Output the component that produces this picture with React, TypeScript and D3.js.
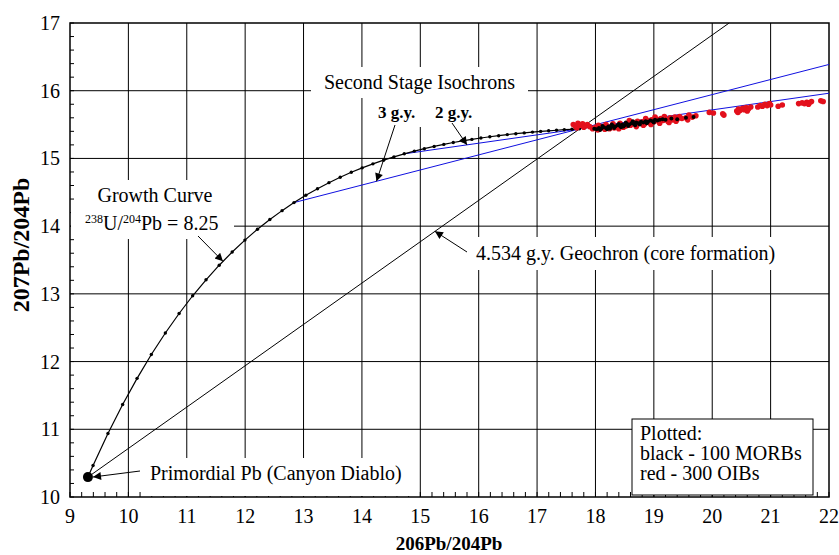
import React from "react";
import * as d3 from "d3";

// growth curve, mu = 8.25, from 4.534 g.y. to today (dots every 0.1 g.y.)
const growthX = [9.307, 9.395, 9.65, 9.902, 10.149, 10.393, 10.633, 10.869, 11.101, 11.33, 11.556, 11.778, 11.996, 12.211, 12.423, 12.632, 12.837, 13.039, 13.239, 13.435, 13.628, 13.818, 14.005, 14.189, 14.371, 14.549, 14.725, 14.898, 15.069, 15.237, 15.402, 15.565, 15.725, 15.883, 16.038, 16.191, 16.342, 16.49, 16.636, 16.78, 16.921, 17.061, 17.198, 17.333, 17.466, 17.597, 17.726];
const growthY = [10.294, 10.465, 10.937, 11.365, 11.752, 12.104, 12.422, 12.71, 12.972, 13.208, 13.423, 13.618, 13.794, 13.954, 14.098, 14.229, 14.348, 14.456, 14.553, 14.642, 14.722, 14.795, 14.861, 14.92, 14.974, 15.023, 15.068, 15.108, 15.144, 15.177, 15.207, 15.235, 15.259, 15.281, 15.302, 15.32, 15.336, 15.352, 15.365, 15.377, 15.389, 15.399, 15.408, 15.416, 15.424, 15.43, 15.437];

const primordial = [9.307, 10.294];
const geochron = [[9.307, 10.294], [20.29, 17]];
const isochron3 = [[12.837, 14.348], [22, 16.388]];
const isochron2 = [[14.725, 15.068], [22, 15.963]];

const morbs = [
  [17.98, 15.44], [18.02, 15.43], [18.06, 15.45], [18.1, 15.44], [18.14, 15.46], [18.18, 15.45], [18.22, 15.47], [18.26, 15.46],
  [18.3, 15.48], [18.34, 15.47], [18.38, 15.49], [18.42, 15.48], [18.46, 15.5], [18.5, 15.49], [18.54, 15.51], [18.58, 15.5],
  [18.62, 15.52], [18.66, 15.51], [18.7, 15.53], [18.74, 15.52], [18.78, 15.54], [18.82, 15.53], [18.86, 15.55], [18.9, 15.54],
  [18.94, 15.56], [18.98, 15.55], [19.02, 15.57], [19.06, 15.56], [19.1, 15.57], [19.15, 15.58], [19.2, 15.57], [19.3, 15.59],
  [19.4, 15.58], [19.55, 15.6], [19.68, 15.61], [18.08, 15.42], [18.2, 15.43], [18.32, 15.45], [18.44, 15.46], [18.56, 15.48],
  [18.68, 15.49], [18.12, 15.48], [18.28, 15.5], [18.4, 15.51], [18.52, 15.53], [18.64, 15.55], [18.76, 15.5], [18.88, 15.52],
  [19.0, 15.53], [18.25, 15.44], [18.48, 15.47],
];

const oibs = [
  [17.62, 15.5], [17.66, 15.47], [17.7, 15.52], [17.74, 15.49], [17.78, 15.51], [17.82, 15.48], [17.86, 15.5], [17.68, 15.45],
  [17.8, 15.46], [17.9, 15.47], [17.95, 15.44], [18.0, 15.46], [18.04, 15.42], [18.08, 15.45], [18.12, 15.47], [18.16, 15.43],
  [18.2, 15.46], [18.24, 15.44], [18.28, 15.48], [18.32, 15.45], [18.36, 15.47], [18.4, 15.44], [18.44, 15.49], [18.48, 15.46],
  [18.05, 15.49], [18.18, 15.5], [18.3, 15.51], [18.42, 15.52], [18.52, 15.48], [18.56, 15.51], [18.6, 15.49], [18.64, 15.53],
  [18.68, 15.5], [18.72, 15.55], [18.76, 15.52], [18.8, 15.54], [18.84, 15.51], [18.88, 15.56], [18.92, 15.53], [18.96, 15.57],
  [19.0, 15.54], [19.04, 15.58], [19.08, 15.55], [19.12, 15.59], [19.16, 15.56], [19.2, 15.58], [19.24, 15.55], [19.28, 15.6],
  [19.32, 15.57], [19.36, 15.61], [19.4, 15.58], [19.44, 15.62], [19.48, 15.59], [18.7, 15.47], [18.82, 15.49], [18.95, 15.5],
  [19.1, 15.52], [19.26, 15.53], [19.38, 15.55], [18.58, 15.56], [18.86, 15.59], [19.02, 15.61], [19.18, 15.62], [19.55, 15.6],
  [19.6, 15.64], [19.66, 15.61], [19.72, 15.63], [19.58, 15.57], [19.95, 15.68], [20.02, 15.67], [20.2, 15.64], [20.18, 15.66],
  [20.42, 15.7], [20.45, 15.73], [20.48, 15.71], [20.52, 15.74], [20.55, 15.72], [20.58, 15.75], [20.62, 15.73], [20.66, 15.76],
  [20.44, 15.68], [20.6, 15.7], [20.78, 15.76], [20.82, 15.78], [20.86, 15.77], [20.9, 15.8], [20.94, 15.78], [20.98, 15.81],
  [21.0, 15.79], [21.13, 15.77], [21.2, 15.79], [21.48, 15.81], [21.54, 15.82], [21.58, 15.81], [21.62, 15.83], [21.66, 15.82],
  [21.7, 15.84], [21.65, 15.8], [21.86, 15.85], [21.9, 15.84],
];

const xTicks = d3.range(9, 23);
const yTicks = d3.range(10, 18);
const legendLines = ["Plotted:", "black - 100 MORBs", "red - 300 OIBs"];

const W = 839, H = 555;
const L = 70, R = 829, T = 23, B = 497;
const serif = "'Liberation Serif', 'Times New Roman', serif";

export default function App() {
  const x = d3.scaleLinear().domain([9, 22]).range([L, R]);
  const y = d3.scaleLinear().domain([10, 17]).range([B, T]);
  const line = d3.line<number[]>().x((d) => x(d[0])).y((d) => y(d[1]));
  const growth = growthX.map((gx, i) => [gx, growthY[i]]);
  const minorX = d3.range(9, 22.001, 0.2);
  const minorY = d3.range(10, 17.001, 0.2);

  // small helper for annotation arrows (tip in data coords)
  const arrow = (x1: number, y1: number, tip: number[]) => (
    <line x1={x1} y1={y1} x2={x(tip[0])} y2={y(tip[1])} stroke="#000" strokeWidth={1} markerEnd="url(#head)" />
  );

  return (
    <div style={{ position: "absolute", left: 0, top: 0 }}>
      <svg width={W} height={H} style={{ display: "block", background: "#fff" }} fontFamily={serif}>
        <defs>
          <marker id="head" viewBox="0 0 10 10" refX="10" refY="5" markerWidth="10" markerHeight="8" markerUnits="userSpaceOnUse" orient="auto">
            <path d="M0,0 L10,5 L0,10 z" fill="#000" />
          </marker>
        </defs>

        {/* grid */}
        {xTicks.slice(1, -1).map((t) => (
          <line key={"gx" + t} x1={x(t)} x2={x(t)} y1={T} y2={B} stroke="#000" strokeWidth={1} />
        ))}
        {yTicks.slice(1, -1).map((t) => (
          <line key={"gy" + t} x1={L} x2={R} y1={y(t)} y2={y(t)} stroke="#000" strokeWidth={1} />
        ))}

        {/* minor ticks */}
        {minorX.map((t, i) => (
          <line key={"mx" + i} x1={x(t)} x2={x(t)} y1={B} y2={B - 5} stroke="#000" strokeWidth={1} />
        ))}
        {minorY.map((t, i) => (
          <line key={"my" + i} x1={L} x2={L + 4} y1={y(t)} y2={y(t)} stroke="#000" strokeWidth={1} />
        ))}

        {/* white boxes behind labels */}
        <rect x={95} y={180} width={120} height={28} fill="#fff" />
        <rect x={71} y={208} width={163} height={31} fill="#fff" />
        <rect x={311} y={67} width={217} height={31} fill="#fff" />
        <rect x={372} y={98} width={110} height={29} fill="#fff" />
        <rect x={470} y={237} width={316} height={33} fill="#fff" />
        <rect x={143} y={458} width={269} height={38} fill="#fff" />

        {/* frame */}
        <rect x={L} y={T} width={R - L} height={B - T} fill="none" stroke="#000" strokeWidth={1.5} />

        {/* geochron + isochrons */}
        <path d={line(geochron) || ""} fill="none" stroke="#000" strokeWidth={1} />
        <path d={line(isochron3) || ""} fill="none" stroke="#1010e0" strokeWidth={1} />
        <path d={line(isochron2) || ""} fill="none" stroke="#1010e0" strokeWidth={1} />

        {/* growth curve */}
        <path d={line(growth) || ""} fill="none" stroke="#000" strokeWidth={1.2} />
        {growth.slice(1).map((d, i) => (
          <circle key={"g" + i} cx={x(d[0])} cy={y(d[1])} r={1.7} fill="#000" />
        ))}

        {/* data */}
        {oibs.map((d, i) => (
          <circle key={"o" + i} cx={x(d[0])} cy={y(d[1])} r={2.8} fill="#e3101c" />
        ))}
        {morbs.map((d, i) => (
          <circle key={"m" + i} cx={x(d[0])} cy={y(d[1])} r={2} fill="#000" />
        ))}

        <circle cx={x(primordial[0])} cy={y(primordial[1])} r={5} fill="#000" />

        {/* annotations */}
        <text x={155} y={202} fontSize={20} textAnchor="middle">Growth Curve</text>
        <text x={85} y={230} fontSize={20}>
          <tspan fontSize={12} dy={-7}>238</tspan>
          <tspan dy={7}>U/</tspan>
          <tspan fontSize={12} dy={-7}>204</tspan>
          <tspan dy={7}>Pb = 8.25</tspan>
        </text>
        {arrow(198, 236, [11.62, 13.48])}

        <text x={419.5} y={89} fontSize={20} textAnchor="middle">Second Stage Isochrons</text>
        <text x={378} y={118} fontSize={17} fontWeight="bold">3 g.y.</text>
        <text x={435} y={118} fontSize={17} fontWeight="bold">2 g.y.</text>
        {arrow(395, 125, [14.25, 14.663])}
        {arrow(452, 123, [15.8, 15.2])}

        <text x={476} y={260} fontSize={20}>4.534 g.y. Geochron (core formation)</text>
        {arrow(467, 252, [15.25, 13.924])}

        <text x={150} y={480} fontSize={20}>Primordial Pb (Canyon Diablo)</text>
        <line x1={140} y1={471} x2={93} y2={477} stroke="#000" strokeWidth={1} markerEnd="url(#head)" />

        {/* legend */}
        <rect x={632} y={419} width={181} height={76} fill="#fff" stroke="#000" strokeWidth={1} />
        {legendLines.map((s, i) => (
          <text key={s} x={640} y={440 + i * 20} fontSize={20}>{s}</text>
        ))}

        {/* tick labels */}
        {xTicks.map((t) => (
          <text key={"xl" + t} x={x(t)} y={523} fontSize={20} textAnchor="middle">{t}</text>
        ))}
        {yTicks.map((t) => (
          <text key={"yl" + t} x={60} y={y(t) + 7} fontSize={20} textAnchor="end">{t}</text>
        ))}

        {/* axis titles */}
        <text x={449} y={550} fontSize={19} fontWeight="bold" textAnchor="middle">206Pb/204Pb</text>
        <text transform="translate(29,245) rotate(-90)" fontSize={24} fontWeight="bold" textAnchor="middle">207Pb/204Pb</text>
      </svg>
    </div>
  );
}
